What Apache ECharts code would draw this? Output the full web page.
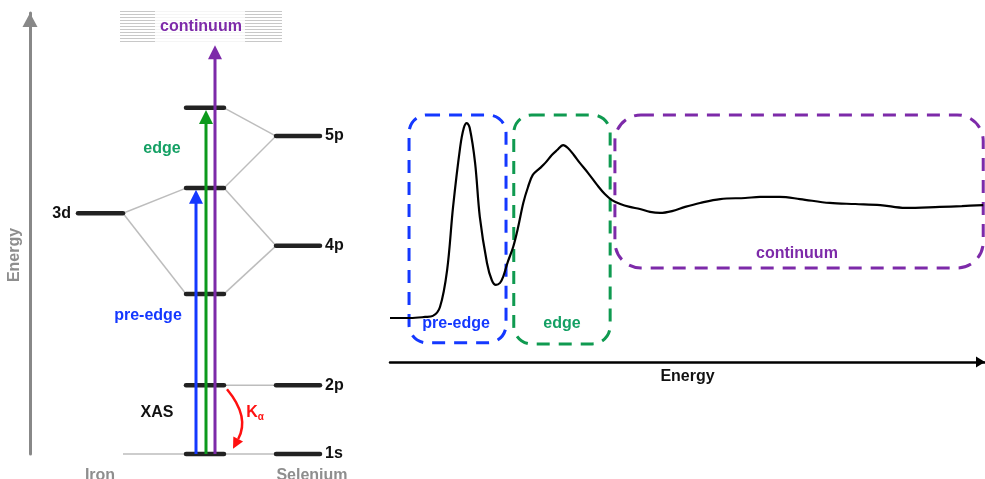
<!DOCTYPE html>
<html><head><meta charset="utf-8">
<script src="https://cdn.jsdelivr.net/npm/echarts@6/dist/echarts.min.js"></script>
<style>html,body{margin:0;padding:0;background:#fff}#c{width:985px;height:479px}</style>
</head><body><div id="c"></div>
<script>
// ===== Left panel: energy-level diagram (x = column position, y = energy, arbitrary units)
const ironCol = [4.8, 9.3];
const complexCol = [15.6, 19.4];
const seCol = [24.6, 29.0];
const ironLevelNames = ['3d'];
const ironLevelEnergies = [5.46];
const ironCoreEnergies = [0];                 // Fe 1s (drawn faint)
const complexLevelEnergies = [0, 1.56, 3.63, 6.03, 7.85];
const seLevelNames = ['1s', '2p', '4p', '5p'];
const seLevelEnergies = [0, 1.56, 4.72, 7.21];
// connections: [Se level index or 'Fe3d'/'Fe1s', complex level index]
const seConnections = [[3, 4], [3, 3], [2, 3], [2, 2], [1, 1], [0, 0]];
const ironConnections = [['3d', 3], ['3d', 2], ['1s', 0]];
const continuumBand = [9.30, 10.07];           // energy range of continuum
const transitionNames = ['pre-edge', 'edge', 'continuum'];
const transitionX = [16.6, 17.6, 18.5];
const transitionTop = [5.99, 7.80, 9.27];
const transitionStart = [0, 0, 0];
const emissionFrom = 1.56, emissionTo = 0.12;  // K-alpha (2p -> 1s)

// ===== Right panel: XAS spectrum (x = energy, y = absorbance, arbitrary units)
const spectrumEnergy = [0, 3.4, 5.9, 7.2, 8.4, 9.6, 10.6, 11.8, 12.4, 12.9, 13.4, 14.3, 15.1, 16.3, 17.1, 17.8,
  18.5, 19.0, 19.8, 20.7, 21.5, 22.4, 23.2, 24.0, 25.2, 26.1, 27.2, 28.1, 29.1, 29.9, 30.9, 31.9, 33.3,
  34.8, 36.1, 37.3, 38.7, 40.3, 42.0, 43.7, 45.4, 47.4, 49.6, 52.1, 55.5, 59.7, 62.2, 65.5, 68.9, 73.9,
  78.2, 82.4, 86.6, 92.4, 96.1, 99.7];
const spectrumAbsorbance = [0.168, 0.168, 0.172, 0.176, 0.21, 0.351, 0.592, 0.821, 0.893, 0.912, 0.893, 0.760,
  0.553, 0.378, 0.313, 0.294, 0.302, 0.324, 0.382, 0.439, 0.511, 0.607, 0.668, 0.714, 0.740, 0.760, 0.790,
  0.809, 0.828, 0.817, 0.790, 0.760, 0.721, 0.676, 0.641, 0.618, 0.603, 0.592, 0.584, 0.573, 0.569, 0.576,
  0.592, 0.607, 0.622, 0.626, 0.630, 0.630, 0.622, 0.607, 0.603, 0.599, 0.588, 0.592, 0.595, 0.599];
const regionNames = ['pre-edge', 'edge', 'continuum'];
const regionStart = [3.2, 20.8, 37.8];
const regionEnd = [19.5, 37.0, 99.7];
const regionLow = [0.073, 0.069, 0.359];
const regionHigh = [0.943, 0.943, 0.943];

// ===== styles
const BLUE = '#1438ff', GREEN = '#0c9a1c', PURPLE = '#7d2aa9', TEAL = '#14a064', BOXGREEN = '#0f9a50';
const FONT = '"Liberation Sans", Arial, sans-serif';
const regionColors = [BLUE, BOXGREEN, PURPLE];
const regionTextColors = [BLUE, TEAL, PURPLE];
const regionRadius = [18, 18, 26];
const regionLabelPos = [[11.1, 0.145], [28.9, 0.145], [68.4, 0.412]];
const transitionColors = [BLUE, GREEN, PURPLE];

// build level + connector segments
const segs = []; // [x0,y0,x1,y1,kind]
ironConnections.forEach(([n, ci]) => {
  const e = n === '3d' ? ironLevelEnergies[0] : ironCoreEnergies[0];
  segs.push([ironCol[1], e, complexCol[0], complexLevelEnergies[ci], 0]);
});
seConnections.forEach(([si, ci]) => segs.push([seCol[0], seLevelEnergies[si], complexCol[1], complexLevelEnergies[ci], 0]));
ironLevelEnergies.forEach(e => segs.push([ironCol[0], e, ironCol[1], e, 1]));
complexLevelEnergies.forEach(e => segs.push([complexCol[0], e, complexCol[1], e, 1]));
seLevelEnergies.forEach(e => segs.push([seCol[0], e, seCol[1], e, 1]));

const leftTexts = [
  // [x, y, text, color, align]
  [ironCol[0] - 0.7, ironLevelEnergies[0], ironLevelNames[0], '#111', 'right'],
  ...seLevelNames.map((n, i) => [seCol[1] + 0.5, seLevelEnergies[i], n, '#111', 'left']),
  [13.2, 6.92, transitionNames[1], TEAL, 'center'],
  [11.8, 3.13, transitionNames[0], BLUE, 'center'],
  [12.7, 0.95, 'XAS', '#111', 'center'],
  [7.0, -0.48, 'Iron', '#8e8e8e', 'center'],
  [28.2, -0.48, 'Selenium', '#8e8e8e', 'center']
];

const chart = echarts.init(document.getElementById('c'), null, {renderer: 'canvas'});
chart.setOption({
  animation: false,
  backgroundColor: '#fff',
  grid: [
    {left: 30, top: 13, width: 330, bottom: 25},
    {left: 390, right: 0, top: 100, bottom: 117}
  ],
  xAxis: [
    {gridIndex: 0, type: 'value', min: 0, max: 33, show: false},
    {gridIndex: 1, type: 'value', min: 0, max: 100,
     axisLine: {onZero: false, symbol: ['none', 'triangle'], symbolSize: [11, 9], symbolOffset: [0, -4.5],
                lineStyle: {color: '#000', width: 2.5}},
     axisTick: {show: false}, axisLabel: {show: false}, splitLine: {show: false},
     name: 'Energy', nameLocation: 'middle', nameGap: 7,
     nameTextStyle: {fontFamily: FONT, fontWeight: 'bold', fontSize: 16, color: '#111'}}
  ],
  yAxis: [
    {gridIndex: 0, type: 'value', min: 0, max: 10,
     axisLine: {show: true, onZero: false, symbol: ['none', 'triangle'], symbolSize: [15, 14], symbolOffset: [0, -7],
                lineStyle: {color: '#888', width: 3}},
     axisTick: {show: false}, axisLabel: {show: false}, splitLine: {show: false}},
    {gridIndex: 1, type: 'value', min: 0, max: 1, show: false}
  ],
  graphic: [{
    type: 'text', x: 15, y: 255, rotation: Math.PI / 2,
    style: {text: 'Energy', fill: '#8e8e8e', font: 'bold 16px ' + FONT, align: 'center', verticalAlign: 'middle'}
  }],
  series: [
    // continuum band (left)
    {type: 'custom', xAxisIndex: 0, yAxisIndex: 0, z: 1, clip: false,
     data: [[9.0, 25.2, continuumBand[0], continuumBand[1]]],
     renderItem(params, api) {
       const p0 = api.coord([api.value(0), api.value(3)]);
       const p1 = api.coord([api.value(1), api.value(2)]);
       const children = [];
       for (let y = p0[1] + 1.5; y < p1[1]; y += 3) {
         children.push({type: 'line', shape: {x1: p0[0], y1: Math.round(y) + 0.5, x2: p1[0], y2: Math.round(y) + 0.5},
                        style: {stroke: '#c8c8c8', lineWidth: 1}});
       }
       const m0 = api.coord([12.5, 0])[0], m1 = api.coord([21.5, 0])[0];
       children.push({type: 'rect', shape: {x: m0, y: p0[1], width: m1 - m0, height: p1[1] - p0[1]},
                      style: {fill: 'rgba(255,255,255,0.82)'}});
       const c = api.coord([17.1, (api.value(2) + api.value(3)) / 2]);
       children.push({type: 'text', x: c[0], y: c[1], style: {text: 'continuum', fill: PURPLE,
                      font: 'bold 16px ' + FONT, align: 'center', verticalAlign: 'middle'}});
       return {type: 'group', children};
     }},
    // levels and connectors
    {type: 'custom', xAxisIndex: 0, yAxisIndex: 0, z: 2, clip: false,
     data: segs,
     renderItem(params, api) {
       const a = api.coord([api.value(0), api.value(1)]);
       const b = api.coord([api.value(2), api.value(3)]);
       const lvl = api.value(4) === 1;
       return {type: 'line', shape: {x1: a[0], y1: a[1], x2: b[0], y2: b[1]},
               style: lvl ? {stroke: '#222', lineWidth: 4.5, lineCap: 'round'} : {stroke: '#bdbdbd', lineWidth: 1.5}};
     }},
    // excitation arrows
    {type: 'custom', xAxisIndex: 0, yAxisIndex: 0, z: 3, clip: false,
     data: transitionX.map((x, i) => [x, transitionStart[i], transitionTop[i]]),
     renderItem(params, api) {
       const col = transitionColors[params.dataIndex];
       const a = api.coord([api.value(0), api.value(1)]);
       const t = api.coord([api.value(0), api.value(2)]);
       const hl = 14, hw = 7;
       return {type: 'group', children: [
         {type: 'line', shape: {x1: a[0], y1: a[1], x2: t[0], y2: t[1] + hl - 1}, style: {stroke: col, lineWidth: 3}},
         {type: 'polygon', shape: {points: [[t[0], t[1]], [t[0] - hw, t[1] + hl], [t[0] + hw, t[1] + hl]]}, style: {fill: col}}
       ]};
     }},
    // K-alpha emission arrow
    {type: 'custom', xAxisIndex: 0, yAxisIndex: 0, z: 3, clip: false,
     data: [[19.7, emissionFrom - 0.09, 20.3, emissionTo]],
     renderItem(params, api) {
       const s = api.coord([api.value(0), api.value(1)]);
       const e = api.coord([api.value(2), api.value(3)]);
       const cp = api.coord([22.0, 0.84]);
       const dx = e[0] - cp[0], dy = e[1] - cp[1], L = Math.hypot(dx, dy);
       const ux = dx / L, uy = dy / L, hl = 11, hw = 5.5;
       const base = [e[0] - ux * hl, e[1] - uy * hl];
       const k = api.coord([22.5, 0.93]);
       return {type: 'group', children: [
         {type: 'bezierCurve', shape: {x1: s[0], y1: s[1], x2: base[0], y2: base[1], cpx1: cp[0], cpy1: cp[1]},
          style: {stroke: '#ff1010', lineWidth: 2.5, fill: 'none'}},
         {type: 'polygon', shape: {points: [e, [base[0] - uy * hw, base[1] + ux * hw], [base[0] + uy * hw, base[1] - ux * hw]]},
          style: {fill: '#ff1010'}},
         {type: 'text', x: k[0], y: k[1], style: {text: '{k|K}{a|α}', align: 'center', verticalAlign: 'middle',
           rich: {k: {fill: '#ff1010', font: 'bold 16px ' + FONT}, a: {fill: '#ff1010', font: 'bold 10px ' + FONT, padding: [8, 0, 0, 0]}}}}
       ]};
     }},
    // left labels
    {type: 'custom', xAxisIndex: 0, yAxisIndex: 0, z: 4, clip: false,
     data: leftTexts.map(t => [t[0], t[1]]),
     renderItem(params, api) {
       const t = leftTexts[params.dataIndex];
       const p = api.coord([api.value(0), api.value(1)]);
       return {type: 'text', x: p[0], y: p[1], style: {text: t[2], fill: t[3], align: t[4], verticalAlign: 'middle',
               font: 'bold 16px ' + FONT}};
     }},
    // right: region boxes
    {type: 'custom', xAxisIndex: 1, yAxisIndex: 1, z: 2, clip: false,
     data: regionNames.map((n, i) => [regionStart[i], regionEnd[i], regionLow[i], regionHigh[i]]),
     renderItem(params, api) {
       const i = params.dataIndex;
       const p0 = api.coord([api.value(0), api.value(3)]);
       const p1 = api.coord([api.value(1), api.value(2)]);
       const lp = api.coord(regionLabelPos[i]);
       return {type: 'group', children: [
         {type: 'rect', shape: {x: p0[0], y: p0[1], width: p1[0] - p0[0], height: p1[1] - p0[1], r: regionRadius[i]},
          style: {fill: 'none', stroke: regionColors[i], lineWidth: 3, lineDash: [13, 9]}},
         {type: 'text', x: lp[0], y: lp[1], style: {text: regionNames[i], fill: regionTextColors[i],
          font: 'bold 16px ' + FONT, align: 'center', verticalAlign: 'middle'}}
       ]};
     }},
    // right: spectrum
    {type: 'line', xAxisIndex: 1, yAxisIndex: 1, z: 5, smooth: 0.35, symbol: 'none',
     data: spectrumEnergy.map((x, i) => [x, spectrumAbsorbance[i]]),
     lineStyle: {color: '#000', width: 2.2}}
  ]
});
</script></body></html>
